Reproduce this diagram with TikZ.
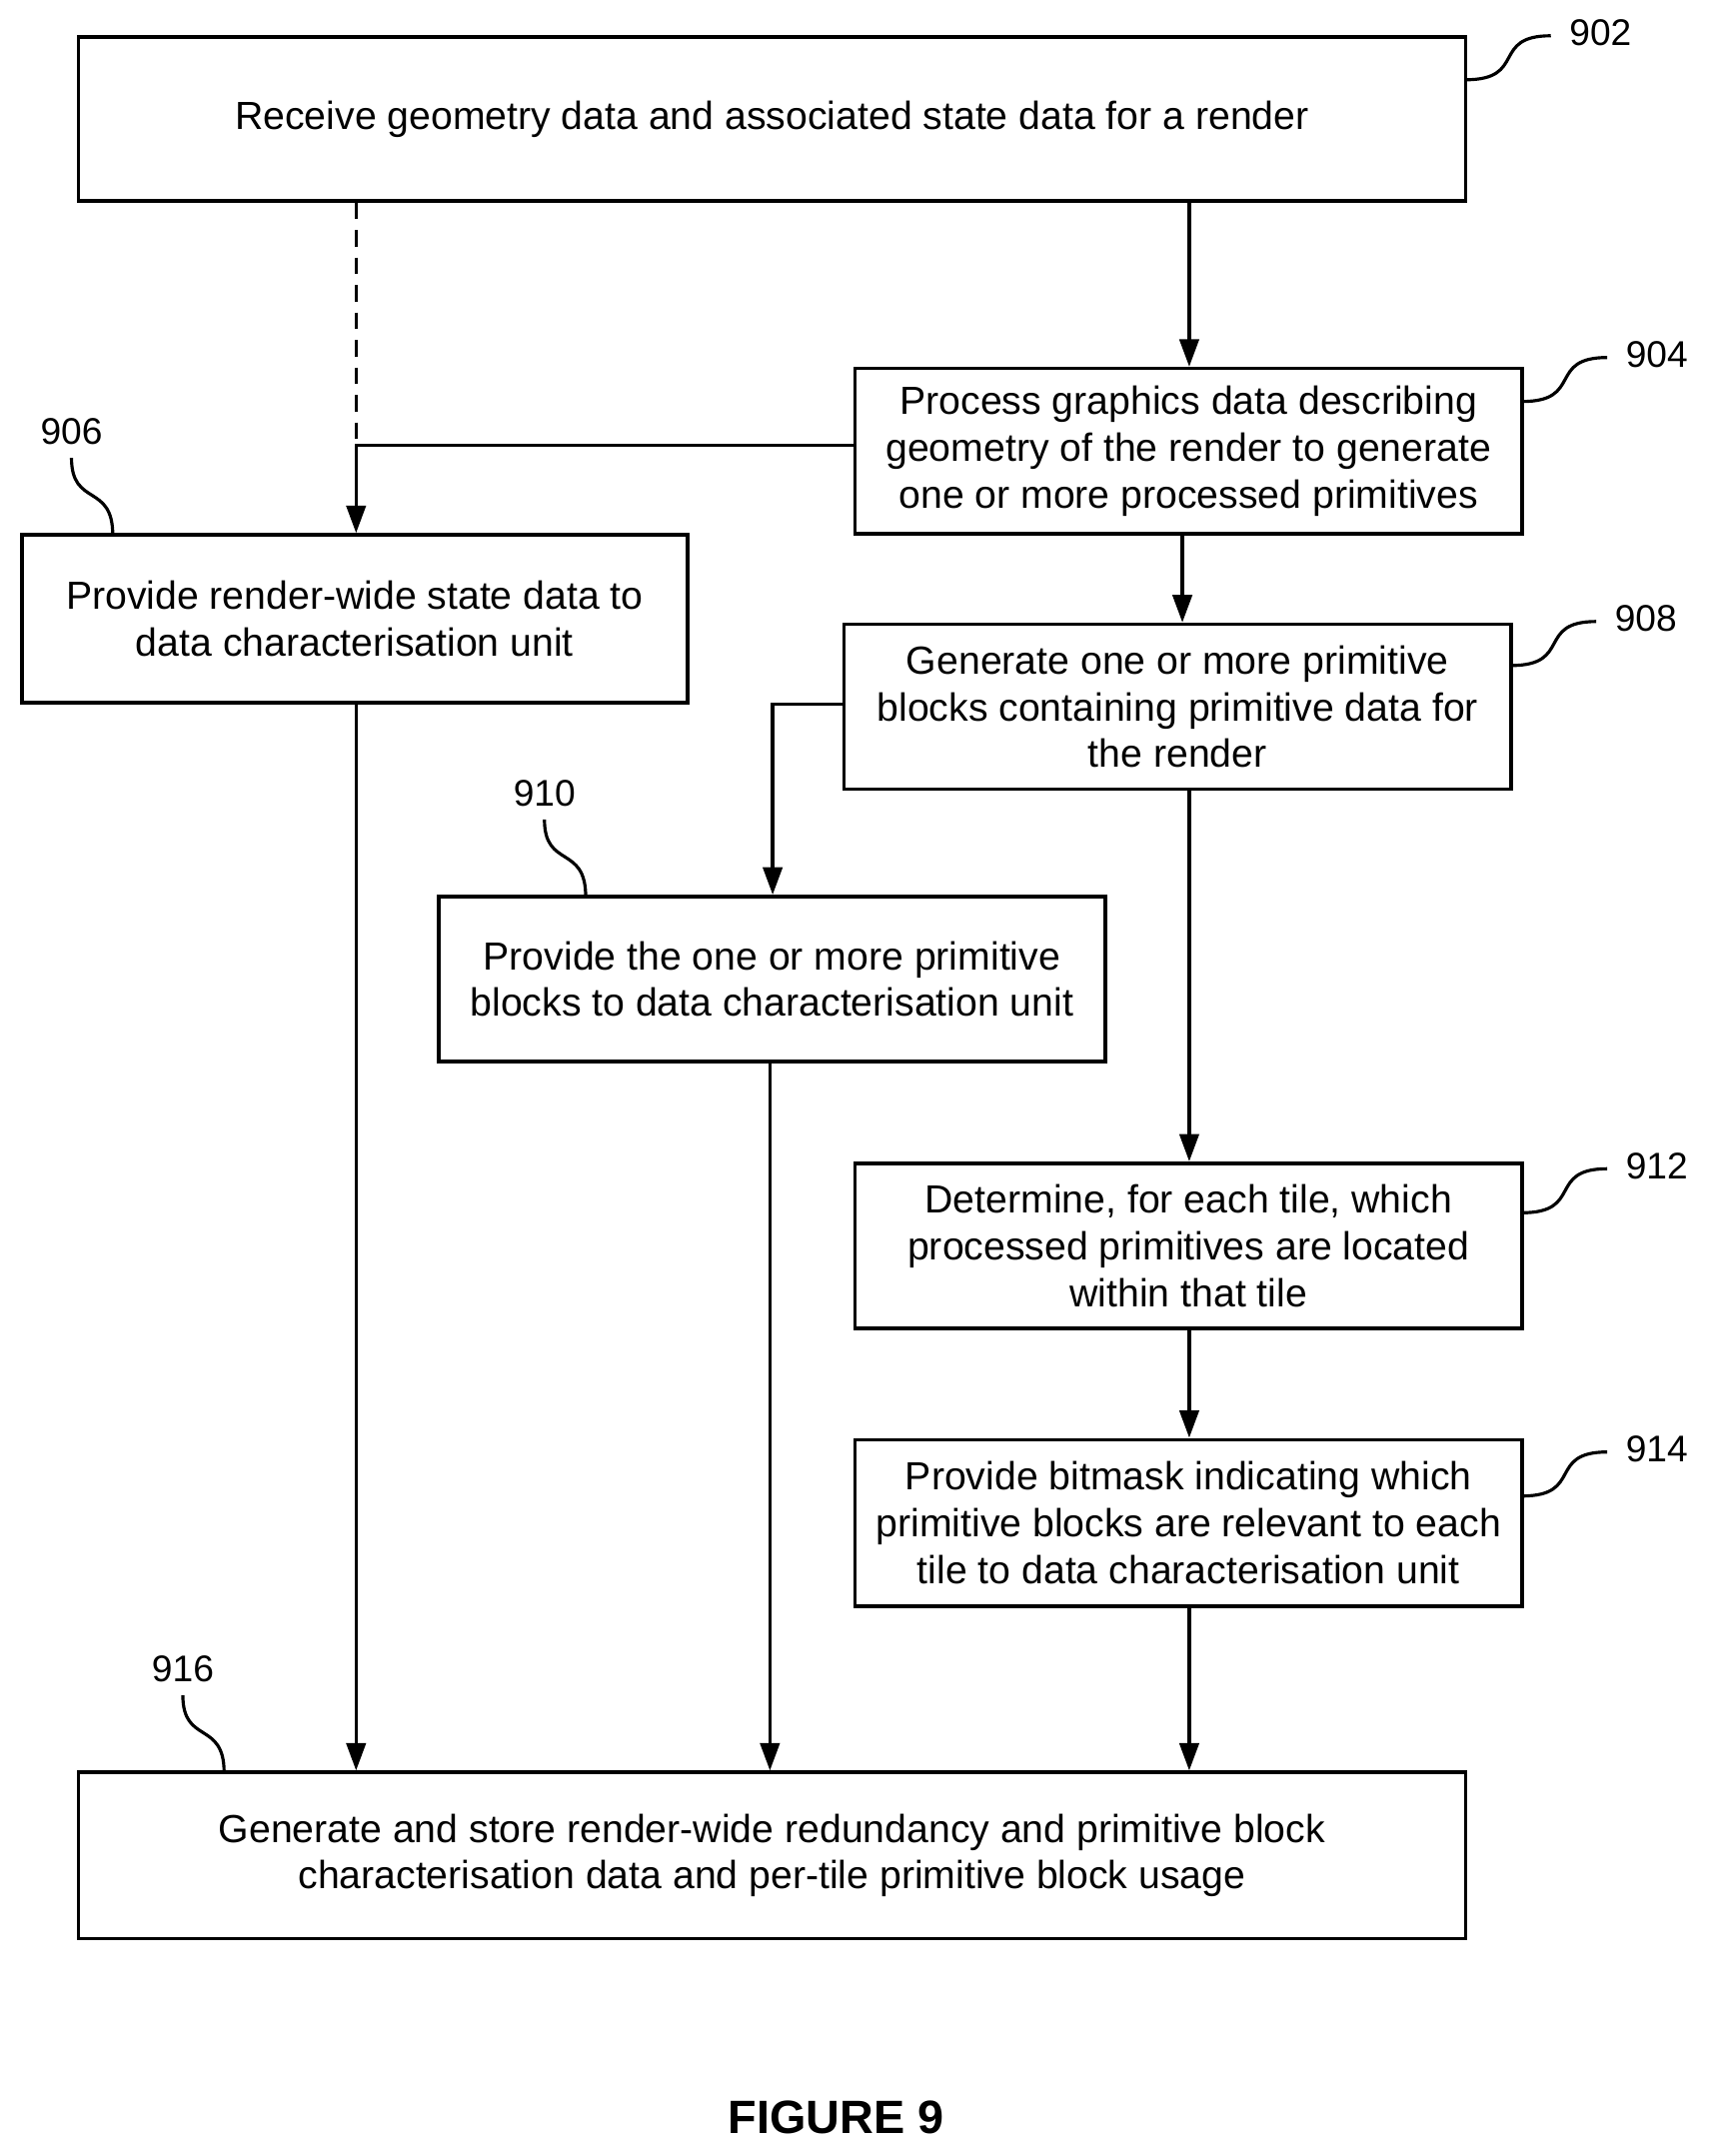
\documentclass[tikz,border=0pt]{standalone}
\usepackage{fontspec}
\setmainfont{Liberation Sans}
\usetikzlibrary{arrows.meta}
\begin{document}
\begin{tikzpicture}[x=1pt,y=-1pt,
  box/.style={draw,line width=2.6pt,inner sep=0pt,align=center,font=\fontsize{28.5}{34}\selectfont},
  arr/.style={line width=2.6pt,-{Triangle[length=20pt,width=14pt]}},
  ln/.style={line width=2.6pt},
  sq/.style={line width=2.3pt},
  lab/.style={font=\fontsize{27}{30}\selectfont}]
\useasboundingbox (0,0) rectangle (1245,1568);
\newcommand{\bx}[6]{\node[box,minimum width=#4-#2,minimum height=#5-#3] (#1) at ({(#2+#4)/2},{(#3+#5)/2}) {#6};}
\bx{b902}{57}{27}{1066}{146}{Receive geometry data and associated state data for a render}
\bx{b904}{622}{268}{1107}{388}{Process graphics data describing\\geometry of the render to generate\\one or more processed primitives}
\bx{b906}{16}{389}{500}{511}{Provide render-wide state data to\\data characterisation unit}
\bx{b908}{614}{454}{1099}{574}{Generate one or more primitive\\blocks containing primitive data for\\the render}
\bx{b910}{319}{652}{804}{772}{Provide the one or more primitive\\blocks to data characterisation unit}
\bx{b912}{622}{846}{1107}{966}{Determine, for each tile, which\\processed primitives are located\\within that tile}
\bx{b914}{622}{1047}{1107}{1168}{Provide bitmask indicating which\\primitive blocks are relevant to each\\tile to data characterisation unit}
\bx{b916}{57}{1289}{1066}{1410}{Generate and store render-wide redundancy and primitive block\\characterisation data and per-tile primitive block usage}
\node[font=\bfseries\fontsize{34}{38}\selectfont] (fig) at (608,1540) {FIGURE 9};
% connectors
\coordinate (j) at (259,324);
\draw[arr] (b902.south -| 865,0) -- (b904.north -| 865,0);
\draw[ln,dashed,dash pattern=on 12pt off 8pt] (b902.south -| 259,0) -- (j);
\draw[arr] (b904.west |- j) -- (j) -- (b906.north -| 259,0);
\draw[arr] (b904.south -| 860,0) -- (b908.north -| 860,0);
\coordinate (k) at (562,512);
\draw[arr] (b908.west |- k) -- (k) -- (b910.north -| 562,0);
\draw[arr] (b908.south -| 865,0) -- (b912.north -| 865,0);
\draw[arr] (b912.south -| 865,0) -- (b914.north -| 865,0);
\draw[arr] (b914.south -| 865,0) -- (b916.north -| 865,0);
\draw[arr] (b906.south -| 259,0) -- (b916.north -| 259,0);
\draw[arr] (b910.south -| 560,0) -- (b916.north -| 560,0);
% labels
\newcommand{\rl}[4]{\draw[sq] (#2,#3) .. controls (#2+45,#3) and (#2+18,#3-32) .. (#2+62,#3-32);
  \node[lab,anchor=west] (#1) at (#2+72,#3-34) {#4};}
\newcommand{\tl}[4]{\draw[sq] (#2,#3) .. controls (#2,#3-38) and (#2-30,#3-20) .. (#2-30,#3-56);
  \node[lab,anchor=south] (#1) at (#2-30,#3-62) {#4};}
\rl{l902}{1066}{58}{902}
\rl{l904}{1107}{292}{904}
\rl{l908}{1099}{484}{908}
\rl{l912}{1107}{882}{912}
\rl{l914}{1107}{1088}{914}
\tl{l906}{82}{389}{906}
\tl{l910}{426}{652}{910}
\tl{l916}{163}{1289}{916}
\end{tikzpicture}
\end{document}
